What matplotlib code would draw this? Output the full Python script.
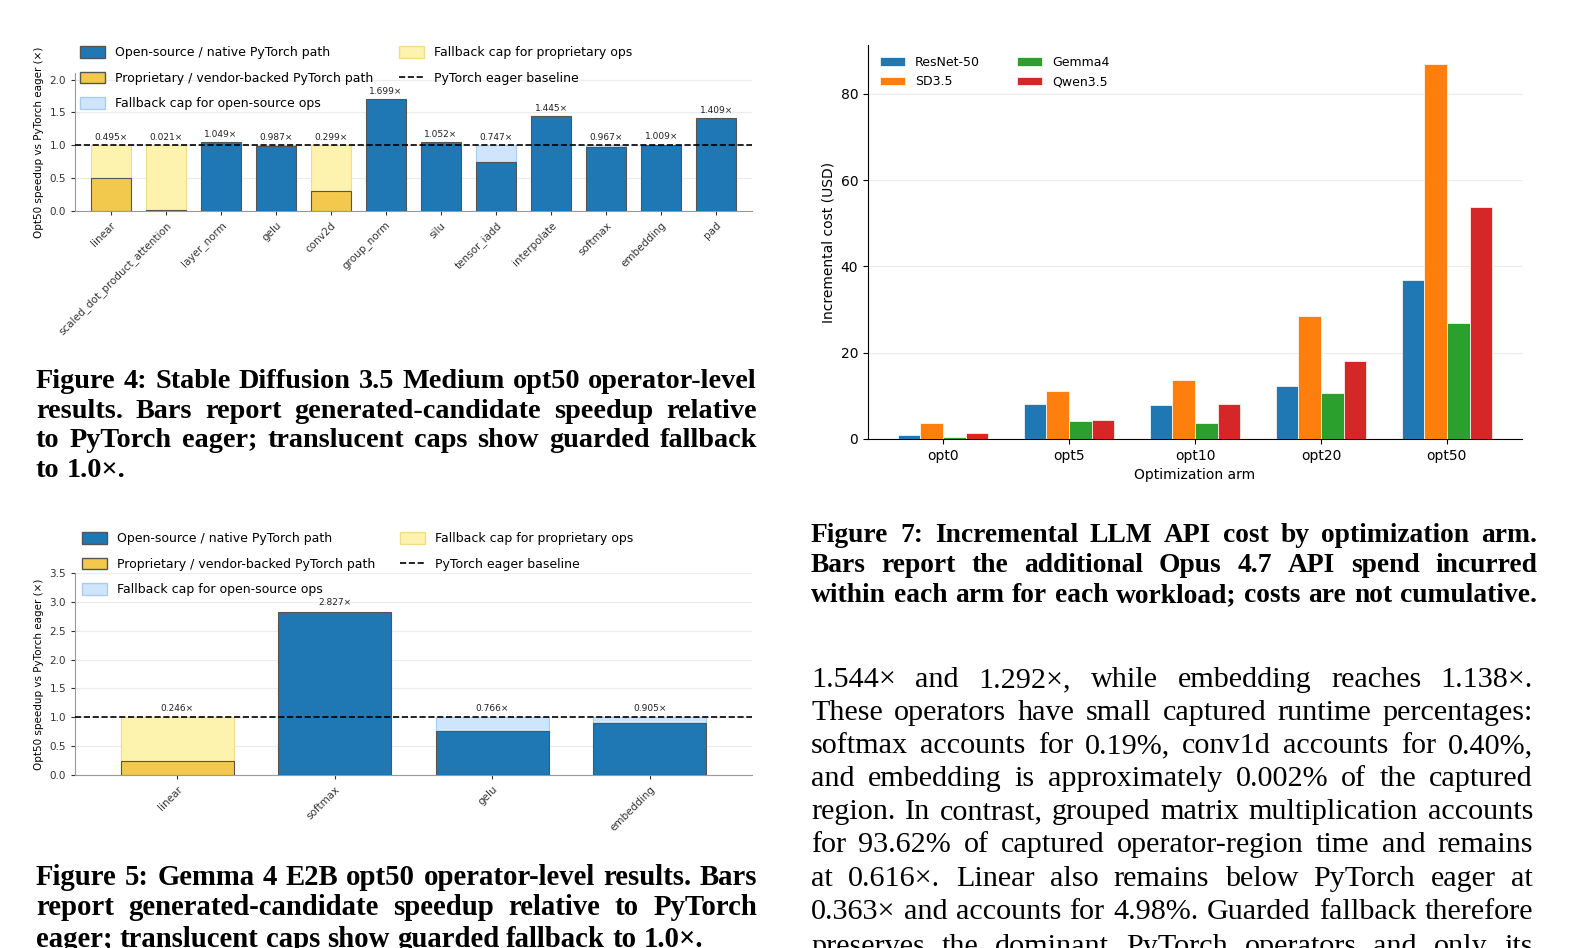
import matplotlib
matplotlib.use("Agg")
import matplotlib.pyplot as plt
import numpy as np
from matplotlib.lines import Line2D
from matplotlib.patches import Patch

W, H = 1584, 948

# Figure 4: SD3.5 operator-level speedups
sd_ops = ["linear", "scaled_dot_product_attention", "layer_norm", "gelu", "conv2d",
          "group_norm", "silu", "tensor_iadd", "interpolate", "softmax",
          "embedding", "pad"]
sd_speedup = [0.495, 0.021, 1.049, 0.987, 0.299, 1.699, 1.052, 0.747, 1.445,
              0.967, 1.009, 1.409]
sd_proprietary = ["linear", "scaled_dot_product_attention", "conv2d"]

# Figure 5: Gemma 4 E2B operator-level speedups
gemma_ops = ["linear", "softmax", "gelu", "embedding"]
gemma_speedup = [0.246, 2.827, 0.766, 0.905]
gemma_proprietary = ["linear"]

# Figure 7: incremental API cost (USD)
cost_arms = ["opt0", "opt5", "opt10", "opt20", "opt50"]
cost_resnet = [0.9, 8.2, 7.9, 12.3, 36.8]
cost_sd = [3.7, 11.2, 13.7, 28.5, 87.0]
cost_gemma = [0.45, 4.1, 3.8, 10.6, 26.8]
cost_qwen = [1.3, 4.5, 8.1, 18.1, 53.7]

OPEN = "#1f77b4"
PROP = "#f2c94c"
CAP_OPEN = "#cfe5fb"
CAP_PROP = "#fdf2ae"
EDGE = "#555555"

fig = plt.figure(figsize=(W / 100, H / 100), dpi=100)


def add_box(left, top, right, bottom):
    # axes placed by pixel edges of the page
    return fig.add_axes([left / W, 1 - bottom / H, (right - left) / W, (bottom - top) / H])


def op_chart(ax, ops, vals, prop, ymax, lab_off, leg_xy):
    for i, (op, v) in enumerate(zip(ops, vals)):
        is_prop = op in prop
        if v < 1.0:
            ax.bar(i, 1.0 - v, bottom=v, width=0.72,
                   color=CAP_PROP if is_prop else CAP_OPEN,
                   edgecolor="#f0dc8a" if is_prop else "#a9cdee", linewidth=0.8, zorder=2)
        ax.bar(i, v, width=0.72, color=PROP if is_prop else OPEN,
               edgecolor=EDGE, linewidth=0.8, zorder=3)
        ax.text(i, max(v, 1.0) + lab_off, f"{v:.3f}\u00d7", ha="center", va="bottom",
                fontsize=6.5, color="#222222")
    ax.axhline(1.0, color="black", ls="--", lw=1.2, zorder=4)
    ax.set_xlim(-0.65, len(ops) - 0.35)
    ax.set_ylim(0, ymax)
    ax.set_yticks(np.arange(0, ymax + 0.01, 0.5))
    ax.set_xticks(range(len(ops)))
    ax.set_xticklabels(ops, rotation=45, ha="right", rotation_mode="anchor", fontsize=7.5)
    ax.tick_params(axis="y", labelsize=7.5, colors="#333333", length=3)
    ax.tick_params(axis="x", colors="#333333", length=3)
    ax.set_ylabel("Opt50 speedup vs PyTorch eager (\u00d7)", fontsize=7.5)
    ax.yaxis.grid(True, color="#ececec", lw=0.8)
    ax.set_axisbelow(True)
    for s in ["top", "right"]:
        ax.spines[s].set_visible(False)
    for s in ["left", "bottom"]:
        ax.spines[s].set_color("#999999")
    handles = [
        Patch(facecolor=OPEN, edgecolor=EDGE, label="Open-source / native PyTorch path"),
        Patch(facecolor=PROP, edgecolor=EDGE, label="Proprietary / vendor-backed PyTorch path"),
        Patch(facecolor=CAP_OPEN, edgecolor="#a9cdee", label="Fallback cap for open-source ops"),
        Patch(facecolor=CAP_PROP, edgecolor="#f0dc8a", label="Fallback cap for proprietary ops"),
        Line2D([], [], color="black", ls="--", lw=1.2, label="PyTorch eager baseline"),
    ]
    ax.legend(handles=handles, ncol=2, loc="upper left", bbox_to_anchor=leg_xy,
              frameon=False, fontsize=9, borderpad=0, borderaxespad=0,
              handlelength=2.0, handleheight=1.0, labelspacing=1.0, columnspacing=2.0)


ax1 = add_box(75, 73, 752, 211)
op_chart(ax1, sd_ops, sd_speedup, sd_proprietary, 2.1, 0.05, (0.008, 1.193))

ax2 = add_box(75, 573, 752, 775)
op_chart(ax2, gemma_ops, gemma_speedup, gemma_proprietary, 3.5, 0.08, (0.01, 1.202))

# cost chart
ax3 = add_box(868, 45, 1522, 439)
x = np.arange(len(cost_arms))
width = 0.18
series = [("ResNet-50", cost_resnet, "#1f77b4"), ("SD3.5", cost_sd, "#ff7f0e"),
          ("Gemma4", cost_gemma, "#2ca02c"), ("Qwen3.5", cost_qwen, "#d62728")]
for k, (name, vals, col) in enumerate(series):
    ax3.bar(x + (k - 1.5) * width, vals, width, color=col, edgecolor="white",
            linewidth=0.5, label=name, zorder=3)
ax3.set_xticks(x)
ax3.set_xticklabels(cost_arms)
ax3.set_yticks([0, 20, 40, 60, 80])
ax3.tick_params(labelsize=10)
ax3.set_xlabel("Optimization arm", fontsize=10)
ax3.set_ylabel("Incremental cost (USD)", fontsize=10)
ax3.yaxis.grid(True, color="#ececec", lw=0.8)
ax3.set_axisbelow(True)
for s in ["top", "right"]:
    ax3.spines[s].set_visible(False)
ax3.legend(ncol=2, loc="upper left", bbox_to_anchor=(0.018, 0.972), frameon=False,
           fontsize=9, borderpad=0, borderaxespad=0, handlelength=2.0,
           columnspacing=3.0)

# page text
renderer = fig.canvas.get_renderer()
SERIF = ["Liberation Serif", "DejaVu Serif"]


def fit_size(lines, justify, span, weight, s0=20):
    # largest size at which every justified line still fits with plain spaces
    best = 99
    for line, just in zip(lines, justify):
        if not just:
            continue
        t = fig.text(0, 0, line, fontsize=s0, fontweight=weight, family=SERIF)
        w = t.get_window_extent(renderer).width
        t.remove()
        best = min(best, s0 * span / w)
    return best * 0.99


def put_lines(lines, x0, x1, baselines, weight="normal", justify=None, cap=30):
    if justify is None:
        justify = [True] * len(lines)
    size = min(cap, fit_size(lines, justify, x1 - x0, weight))
    for line, yb, just in zip(lines, baselines, justify):
        words = line.split()
        texts = [fig.text(0, 1 - yb / H, w, fontsize=size, fontweight=weight,
                          family=SERIF, va="baseline", ha="left") for w in words]
        widths = [t.get_window_extent(renderer).width for t in texts]
        if just and len(words) > 1:
            gap = (x1 - x0 - sum(widths)) / (len(words) - 1)
        else:
            gap = size * 100 / 72 * 0.25
        xp = x0
        for t, wd in zip(texts, widths):
            t.set_x(xp / W)
            xp += wd + gap


put_lines(["Figure 4: Stable Diffusion 3.5 Medium opt50 operator-level",
           "results. Bars report generated-candidate speedup relative",
           "to PyTorch eager; translucent caps show guarded fallback",
           "to 1.0\u00d7."],
          36, 757, [388, 418, 447, 477], "bold", [True, True, True, False], cap=21)

put_lines(["Figure 5: Gemma 4 E2B opt50 operator-level results. Bars",
           "report generated-candidate speedup relative to PyTorch",
           "eager; translucent caps show guarded fallback to 1.0\u00d7."],
          36, 757, [885, 915, 947], "bold", [True, True, False], cap=21)

put_lines(["Figure 7: Incremental LLM API cost by optimization arm.",
           "Bars report the additional Opus 4.7 API spend incurred",
           "within each arm for each workload; costs are not cumulative."],
          811, 1537, [542, 572, 602], "bold", cap=21)

put_lines(["1.544\u00d7 and 1.292\u00d7, while embedding reaches 1.138\u00d7.",
           "These operators have small captured runtime percentages:",
           "softmax accounts for 0.19%, conv1d accounts for 0.40%,",
           "and embedding is approximately 0.002% of the captured",
           "region. In contrast, grouped matrix multiplication accounts",
           "for 93.62% of captured operator-region time and remains",
           "at 0.616\u00d7. Linear also remains below PyTorch eager at",
           "0.363\u00d7 and accounts for 4.98%. Guarded fallback therefore",
           "preserves the dominant PyTorch operators and only its"],
          811, 1533, [687, 720, 753, 786, 819, 852, 886, 919, 954], cap=23)

fig.savefig("out.png", dpi=100)
